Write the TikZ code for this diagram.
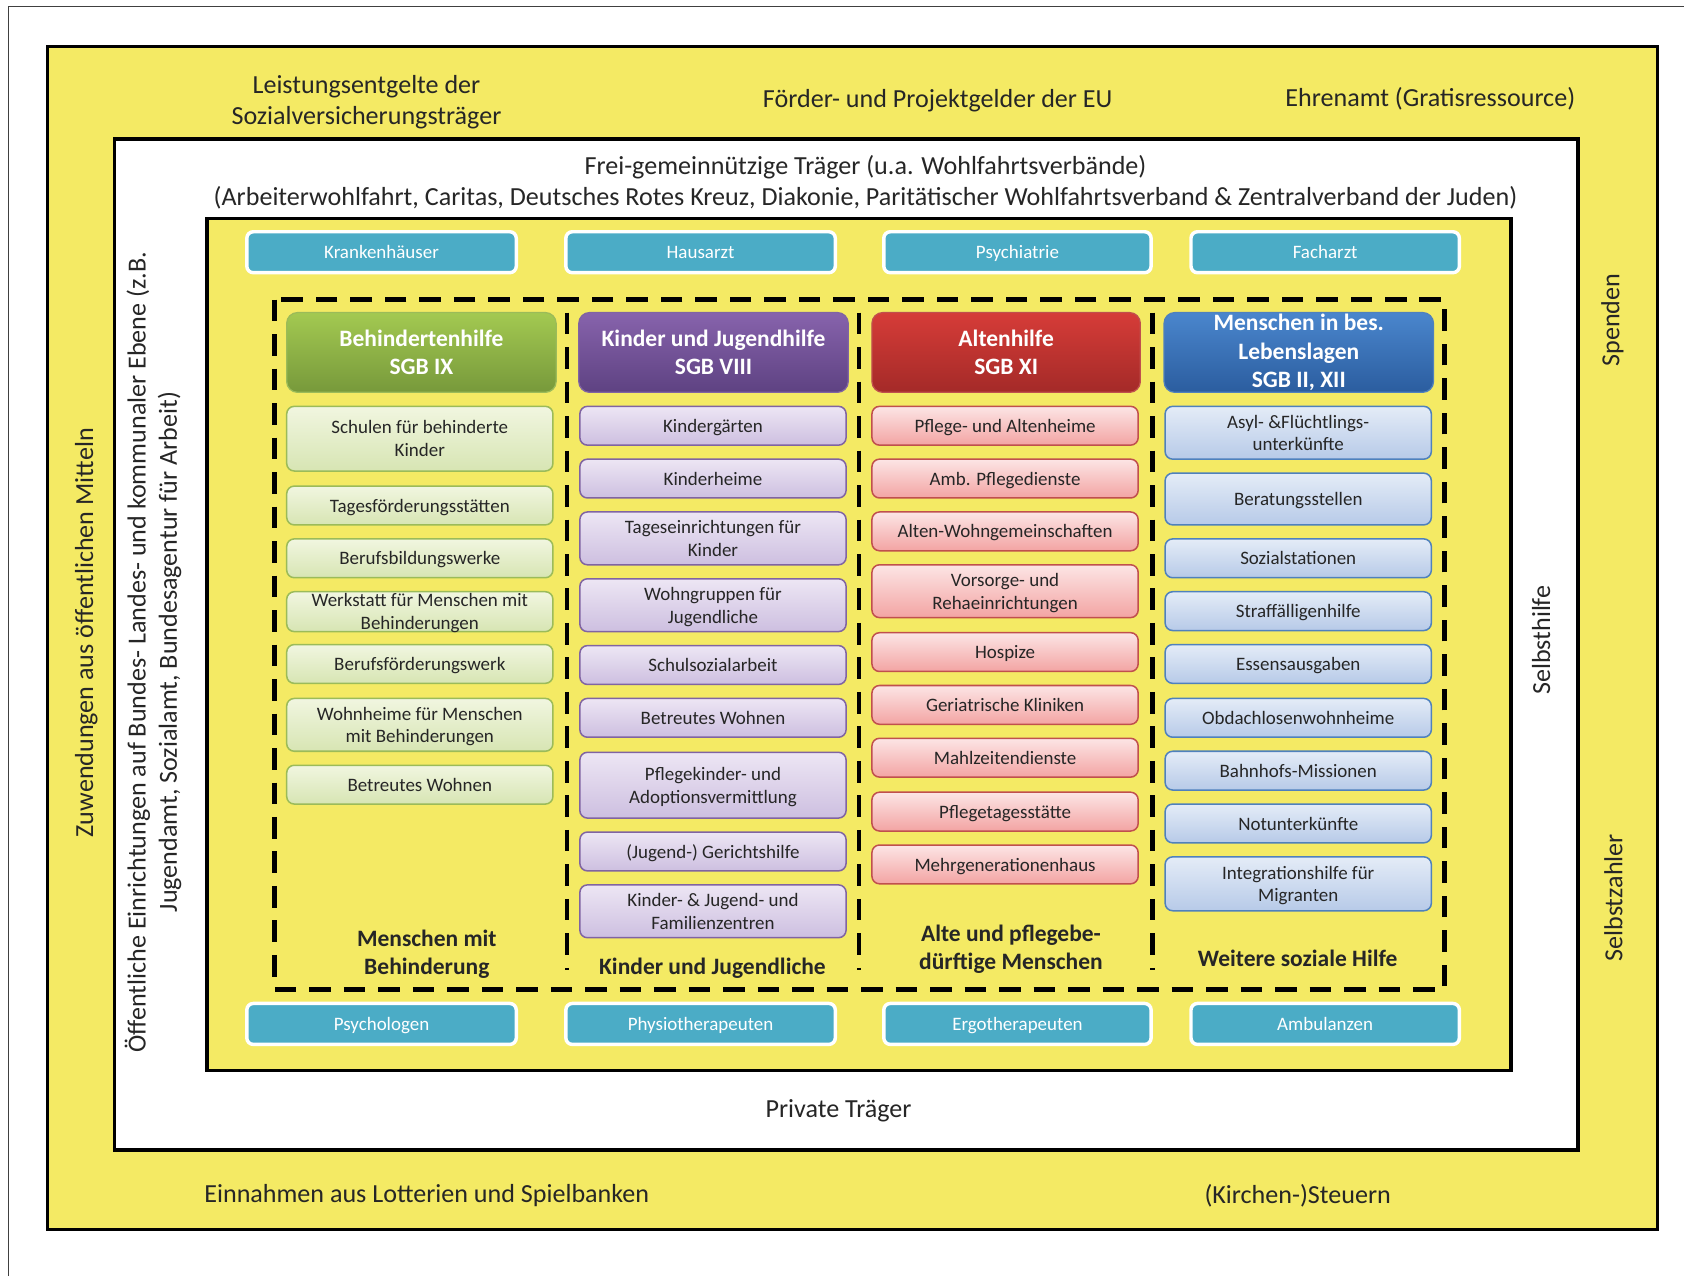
\documentclass[tikz,border=0pt]{standalone}
\usepackage{fontspec}
\setmainfont{Carlito}
\definecolor{ylw}{HTML}{F4EA64}
\definecolor{cy}{HTML}{4BACC6}
\definecolor{txt}{HTML}{262626}
\definecolor{gT}{HTML}{A3C951}\definecolor{gB}{HTML}{77993B}\definecolor{gD}{HTML}{9BBB59}
\definecolor{giT}{HTML}{F1F6E0}\definecolor{giB}{HTML}{D7E5B3}
\definecolor{pT}{HTML}{8763AC}\definecolor{pB}{HTML}{5E4282}\definecolor{pD}{HTML}{8064A2}
\definecolor{piT}{HTML}{EDE6F4}\definecolor{piB}{HTML}{CDBFE0}
\definecolor{rT}{HTML}{D63C38}\definecolor{rB}{HTML}{A42A28}\definecolor{rD}{HTML}{C0504D}
\definecolor{riT}{HTML}{FCE5E5}\definecolor{riB}{HTML}{F3A4A3}
\definecolor{bT}{HTML}{4A86CD}\definecolor{bB}{HTML}{2B5D9F}\definecolor{bD}{HTML}{4F81BD}
\definecolor{biT}{HTML}{E4ECF7}\definecolor{biB}{HTML}{B7CAE8}
\newcommand\bx[7]{\node[#6, minimum width={(#4-#2)*0.5pt}, minimum height={(#5-#3)*0.5pt}] (#1) at ({(#2+#4)/2},{(#3+#5)/2}) {#7};}
\begin{document}
\begin{tikzpicture}[x=0.5pt,y=-0.5pt,
  frame/.style={draw=black, line width=1.5pt},
  dashline/.style={draw=black, line width=2.2pt, dash pattern=on 10pt off 6pt},
  vbig/.style={font=\fontsize{12.1}{14.5}\selectfont, text=txt, align=center, inner sep=0pt},
  big/.style={vbig, yshift=-1pt},
  hdr/.style={rounded corners=5pt, line width=0.6pt, text=white, font=\fontsize{10.9}{13.1}\selectfont\bfseries, align=center, inner sep=0pt},
  hg/.style={hdr, draw=gD, top color=gT, bottom color=gB},
  hp/.style={hdr, draw=pD, top color=pT, bottom color=pB},
  hr/.style={hdr, draw=rD, top color=rT, bottom color=rB},
  hb/.style={hdr, draw=bD, top color=bT, bottom color=bB},
  item/.style={rounded corners=3.5pt, line width=0.7pt, font=\fontsize{8.8}{10.5}\selectfont, text=txt, align=center, inner sep=0pt, text depth=0pt},
  ig/.style={item, draw=gD, top color=giT, bottom color=giB},
  ip/.style={item, draw=pD, top color=piT, bottom color=piB},
  ir/.style={item, draw=rD, top color=riT, bottom color=riB},
  ib/.style={item, draw=bD, top color=biT, bottom color=biB},
  cbox/.style={fill=cy, draw=white, line width=1.6pt, rounded corners=3pt, text=white, font=\fontsize{8.8}{10}\selectfont, inner sep=0pt, text depth=0pt},
  foot/.style={font=\fontsize{10.9}{13}\selectfont\bfseries, text=txt, align=center, inner sep=0pt, yshift=-0.5pt}
]
\useasboundingbox (0,0) rectangle (1568,1184);
\fill[white] (0,0) rectangle (1568,1184);
\draw[black!75, line width=0.6pt] (8,1184) -- (8,6) -- (1562,6);
% frames
\draw[frame, fill=ylw] (44,43) rectangle (1538,1141);
\draw[frame, fill=white] (106,129) rectangle (1464,1067);
\draw[frame, fill=ylw] (192,203) rectangle (1402,993);
\draw[dashline] (255,278) rectangle (1340,918);
\draw[dashline] (526,290) -- (526,900);
\draw[dashline] (797,290) -- (797,900);
\draw[dashline] (1069,290) -- (1069,900);
% outer texts
\node[big] (t1) at (340,93) {Leistungsentgelte der\\Sozialversicherungsträger};
\node[big] (t2) at (870,91) {Förder- und Projektgelder der EU};
\node[big] (t3) at (1327,90) {Ehrenamt (Gratisressource)};
\node[big] (t4) at (396,1107) {Einnahmen aus Lotterien und Spielbanken};
\node[big] (t5) at (1204,1107) {(Kirchen-)Steuern};
\node[vbig, rotate=90] (t6) at (80,587) {Zuwendungen aus öffentlichen Mitteln};
\node[vbig, rotate=90] (t7) at (1496,297) {Spenden};
\node[vbig, rotate=90] (t8) at (1497,833) {Selbstzahler};
% white frame texts
\node[big] (w1) at (803,167) {Frei-gemeinnützige Träger (u.a. Wohlfahrtsverbände)\\(Arbeiterwohlfahrt, Caritas, Deutsches Rotes Kreuz, Diakonie, Paritätischer Wohlfahrtsverband \& Zentralverband der Juden)};
\node[big] (w2) at (778,1029) {Private Träger};
\node[vbig, rotate=90] (w3) at (142,605) {Öffentliche Einrichtungen auf Bundes- Landes- und kommunaler Ebene (z.B.\\Jugendamt, Sozialamt, Bundesagentur für Arbeit)};
\node[vbig, rotate=90] (w4) at (1430,594) {Selbsthilfe};
% cyan boxes
\bx{c1}{229}{215}{479}{253}{cbox}{Krankenhäuser}
\bx{c2}{525}{215}{775}{253}{cbox}{Hausarzt}
\bx{c3}{820}{215}{1068}{253}{cbox}{Psychiatrie}
\bx{c4}{1105}{215}{1354}{253}{cbox}{Facharzt}
\bx{c5}{229}{931}{479}{969}{cbox}{Psychologen}
\bx{c6}{525}{931}{775}{969}{cbox}{Physiotherapeuten}
\bx{c7}{820}{931}{1068}{969}{cbox}{Ergotherapeuten}
\bx{c8}{1105}{931}{1354}{969}{cbox}{Ambulanzen}
% headers
\bx{h1}{266}{290}{516}{364}{hg}{Behindertenhilfe\\SGB IX}
\bx{h2}{537}{290}{787}{364}{hp}{Kinder und Jugendhilfe\\SGB VIII}
\bx{h3}{809}{290}{1058}{364}{hr}{Altenhilfe\\SGB XI}
\bx{h4}{1080}{290}{1330}{364}{hb}{Menschen in bes.\\Lebenslagen\\SGB II, XII}
% column 1
\bx{g1}{266}{377}{513}{437}{ig}{Schulen für behinderte\\Kinder}
\bx{g2}{266}{451}{513}{487}{ig}{Tagesförderungsstätten}
\bx{g3}{266}{500}{513}{536}{ig}{Berufsbildungswerke}
\bx{g4}{266}{549}{513}{586}{ig}{Werkstatt für Menschen mit\\Behinderungen}
\bx{g5}{266}{598}{513}{634}{ig}{Berufsförderungswerk}
\bx{g6}{266}{648}{513}{697}{ig}{Wohnheime für Menschen\\mit Behinderungen}
\bx{g7}{266}{710}{513}{746}{ig}{Betreutes Wohnen}
% column 2
\bx{p1}{538}{377}{785}{413}{ip}{Kindergärten}
\bx{p2}{538}{426}{785}{462}{ip}{Kinderheime}
\bx{p3}{538}{475}{785}{524}{ip}{Tageseinrichtungen für\\Kinder}
\bx{p4}{538}{537}{785}{586}{ip}{Wohngruppen für\\Jugendliche}
\bx{p5}{538}{599}{785}{635}{ip}{Schulsozialarbeit}
\bx{p6}{538}{648}{785}{684}{ip}{Betreutes Wohnen}
\bx{p7}{538}{698}{785}{759}{ip}{Pflegekinder- und\\Adoptionsvermittlung}
\bx{p8}{538}{772}{785}{808}{ip}{(Jugend-) Gerichtshilfe}
\bx{p9}{538}{821}{785}{870}{ip}{Kinder- \& Jugend- und\\Familienzentren}
% column 3
\bx{r1}{809}{377}{1056}{413}{ir}{Pflege- und Altenheime}
\bx{r2}{809}{426}{1056}{462}{ir}{Amb. Pflegedienste}
\bx{r3}{809}{475}{1056}{511}{ir}{Alten-Wohngemeinschaften}
\bx{r4}{809}{524}{1056}{573}{ir}{Vorsorge- und\\Rehaeinrichtungen}
\bx{r5}{809}{587}{1056}{623}{ir}{Hospize}
\bx{r6}{809}{636}{1056}{672}{ir}{Geriatrische Kliniken}
\bx{r7}{809}{685}{1056}{721}{ir}{Mahlzeitendienste}
\bx{r8}{809}{735}{1056}{771}{ir}{Pflegetagesstätte}
\bx{r9}{809}{784}{1056}{820}{ir}{Mehrgenerationenhaus}
% column 4
\bx{b1}{1081}{377}{1328}{426}{ib}{Asyl- \&Flüchtlings-\\unterkünfte}
\bx{b2}{1081}{439}{1328}{487}{ib}{Beratungsstellen}
\bx{b3}{1081}{500}{1328}{536}{ib}{Sozialstationen}
\bx{b4}{1081}{549}{1328}{585}{ib}{Straffälligenhilfe}
\bx{b5}{1081}{598}{1328}{634}{ib}{Essensausgaben}
\bx{b6}{1081}{648}{1328}{684}{ib}{Obdachlosenwohnheime}
\bx{b7}{1081}{697}{1328}{733}{ib}{Bahnhofs-Missionen}
\bx{b8}{1081}{746}{1328}{782}{ib}{Notunterkünfte}
\bx{b9}{1081}{795}{1328}{845}{ib}{Integrationshilfe für\\Migranten}
% footers
\node[foot] (f1) at (396,884) {Menschen mit\\Behinderung};
\node[foot] (f2) at (661,897) {Kinder und Jugendliche};
\node[foot] (f3) at (938,880) {Alte und pflegebe-\\dürftige Menschen};
\node[foot] (f4) at (1204,888) {Weitere soziale Hilfe};
\end{tikzpicture}
\end{document}
